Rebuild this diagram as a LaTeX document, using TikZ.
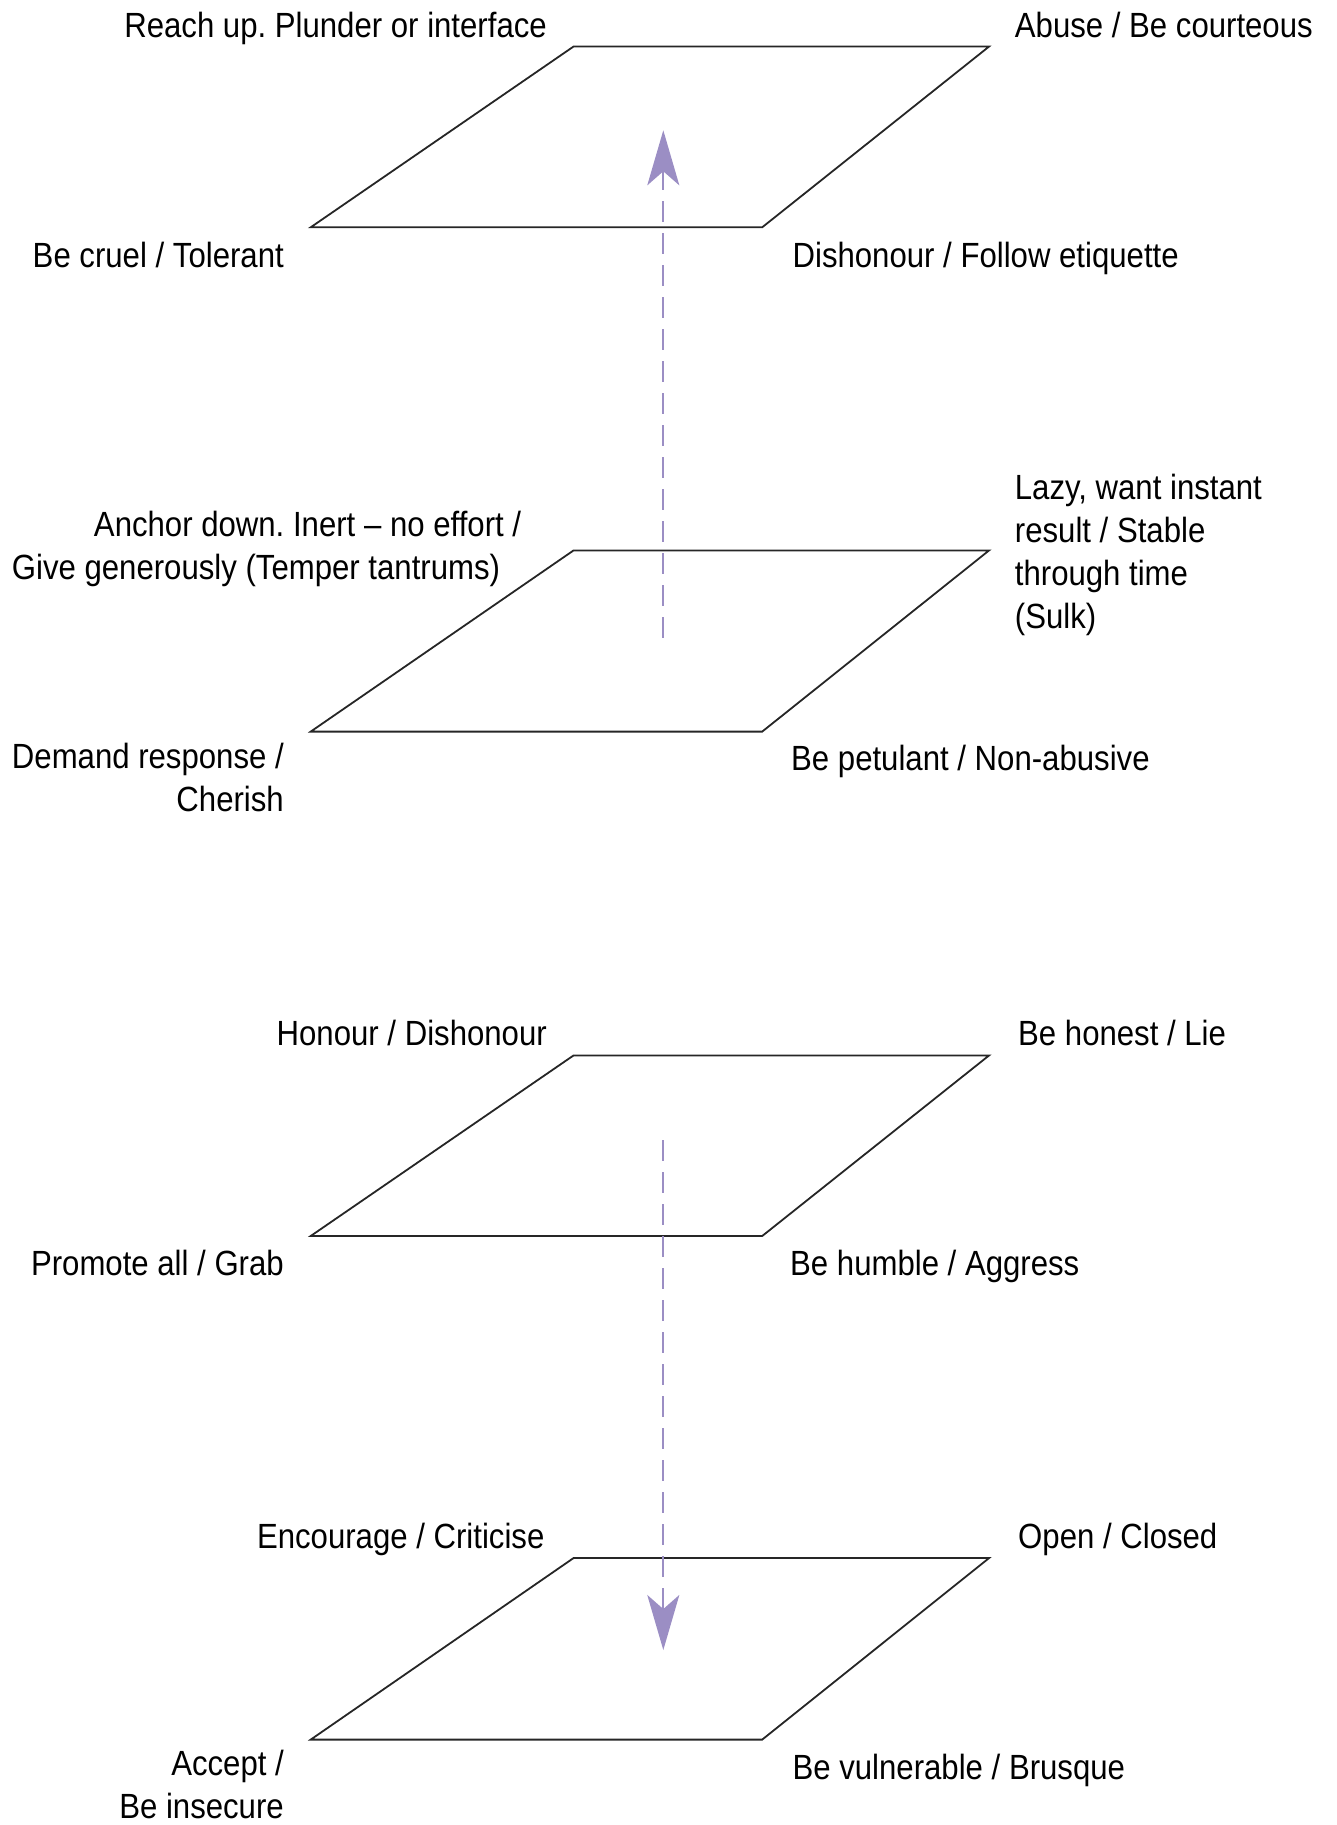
\documentclass[tikz,border=0pt]{standalone}
\usepackage{fontspec}
\setmainfont{Liberation Sans}[FakeStretch=0.89]
\usetikzlibrary{arrows.meta}
\definecolor{lav}{RGB}{155,142,196}
\frenchspacing
\begin{document}
\begin{tikzpicture}[x=1pt,y=-1pt,
  plane/.style={draw=black!85, line width=1.8pt, line join=miter},
  lbl/.style={inner sep=0pt, font=\fontsize{35}{43}\selectfont},
  lblL/.style={lbl, anchor=base west, align=left},
  lblR/.style={lbl, anchor=base east, align=right},
  flow/.style={draw=lav, line width=2.2pt, dash pattern=on 21pt off 11pt,
    -{Stealth[length=55pt,width=32pt,inset=14pt,fill=lav]}}]
\useasboundingbox (0,0) rectangle (1337,1825);

% planes
\coordinate (p1a) at (573.6,46.5);  \coordinate (p1b) at (989.1,46.5);
\coordinate (p1c) at (762.2,227.3); \coordinate (p1d) at (310.7,227.3);
\coordinate (p2a) at (573.6,550.4); \coordinate (p2b) at (989.1,550.4);
\coordinate (p2c) at (762.2,731.6); \coordinate (p2d) at (310.7,731.6);
\coordinate (p3a) at (573.6,1055.4);\coordinate (p3b) at (989.1,1055.4);
\coordinate (p3c) at (762.2,1236.0);\coordinate (p3d) at (310.7,1236.0);
\coordinate (p4a) at (573.6,1558.0);\coordinate (p4b) at (989.1,1558.0);
\coordinate (p4c) at (762.2,1739.6);\coordinate (p4d) at (310.7,1739.6);
\draw[plane] (p1a) -- (p1b) -- (p1c) -- (p1d) -- cycle;
\draw[plane] (p2a) -- (p2b) -- (p2c) -- (p2d) -- cycle;
\draw[plane] (p3a) -- (p3b) -- (p3c) -- (p3d) -- cycle;
\draw[plane] (p4a) -- (p4b) -- (p4c) -- (p4d) -- cycle;

% arrows
\coordinate (a1s) at (663.3,637.7);  \coordinate (a1e) at (663.3,130.3);
\coordinate (a2s) at (663.3,1140.3); \coordinate (a2e) at (663.3,1650.0);
\draw[flow] (a1s) -- (a1e);
\draw[flow] (a2s) -- (a2e);

% labels, plane 1
\node[lblR] (t1) at (547,37.2) {Reach up. Plunder or interface};
\node[lblL] (t2) at (1014.7,37.2) {Abuse / Be courteous};
\node[lblR] (t3) at (284,267.6) {Be cruel / Tolerant};
\node[lblL] (t4) at (792.4,267.6) {Dishonour / Follow etiquette};
% plane 2 (multi-line nodes: base = last line)
\node[lblR] (t5) at (521.3,579.5) {Anchor down. Inert -- no effort /\\Give generously (Temper tantrums)\kern21pt};
\node[lblL] (t6) at (1014.7,628) {Lazy, want instant\\result / Stable\\through time\\(Sulk)};
\node[lblR] (t7) at (284,811) {Demand response /\\Cherish};
\node[lblL] (t8) at (791,770.3) {Be petulant / Non-abusive};
% plane 3
\node[lblR] (t9) at (547,1045) {Honour / Dishonour};
\node[lblL] (t10) at (1018,1045) {Be honest / Lie};
\node[lblR] (t11) at (284,1275.3) {Promote all / Grab};
\node[lblL] (t12) at (790,1275.3) {Be humble / Aggress};
% plane 4
\node[lblR] (t13) at (544.6,1548.8) {Encourage / Criticise};
\node[lblL] (t14) at (1018,1548.8) {Open / Closed};
\node[lblR] (t15) at (284,1818.7) {Accept /\\Be insecure};
\node[lblL] (t16) at (792.4,1779) {Be vulnerable / Brusque};
\end{tikzpicture}
\end{document}
